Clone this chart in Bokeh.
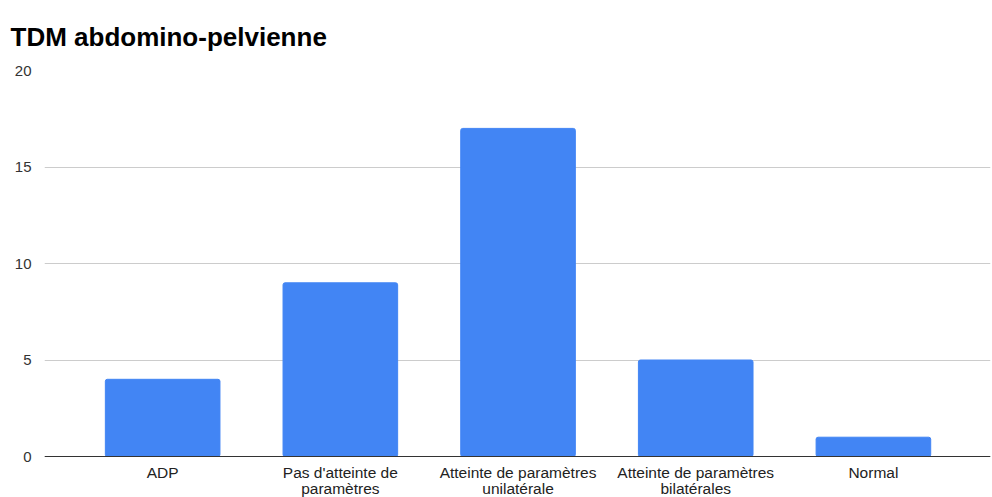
from bokeh.plotting import figure
from bokeh.models import FixedTicker, Range1d, ColumnDataSource, Span
from bokeh.core.properties import value
from bokeh.embed import file_html
from bokeh.resources import INLINE

categories = ["ADP", "Pas d'atteinte de\nparamètres", "Atteinte de paramètres\nunilatérale",
              "Atteinte de paramètres\nbilatérales", "Normal"]
values = [4, 9, 17, 5, 1]
y_ticks = [0, 5, 10, 15, 20]

xs = list(range(len(categories)))
src = ColumnDataSource(dict(x=xs, top=values, base=[0] * len(xs), label=categories))

p = figure(width=992, height=497, output_backend="svg", toolbar_location=None,
           x_range=Range1d(-0.665, 4.659), y_range=Range1d(-2.124, 20),
           title="TDM abdomino-pelvienne",
           min_border_left=44, min_border_right=2, min_border_bottom=0, min_border_top=70)
p.vbar(x="x", top="top", bottom="base", width=0.645, source=src, color="#4285F4", border_radius=2)

p.title.text_font = "Liberation Sans"
p.title.text_font_size = "26px"
p.title.text_font_style = "bold"
p.title.text_color = "#000000"
p.title.offset = -34
p.title.standoff = 38

p.outline_line_color = None
p.xgrid.grid_line_color = None
p.ygrid.grid_line_color = "#cccccc"
p.ygrid.ticker = FixedTicker(ticks=y_ticks)

p.yaxis.ticker = FixedTicker(ticks=y_ticks)
p.yaxis.axis_line_color = None
p.yaxis.major_tick_line_color = None
p.yaxis.minor_tick_line_color = None
p.yaxis.major_label_text_font = "Liberation Sans"
p.yaxis.major_label_text_font_size = "15px"
p.yaxis.major_label_text_color = "#333333"
p.yaxis.major_label_standoff = 7

p.xaxis.visible = False

p.add_layout(Span(location=0, dimension="width", line_color="#333333", line_width=1))

p.text(x="x", y="base", text="label", source=src, y_offset=7,
       text_align="center", text_baseline="top",
       text_font=value("Liberation Sans"), text_font_size="15.5px",
       text_color="#222222", text_line_height=0.95)

open("out.html", "w").write(file_html(p, INLINE))
